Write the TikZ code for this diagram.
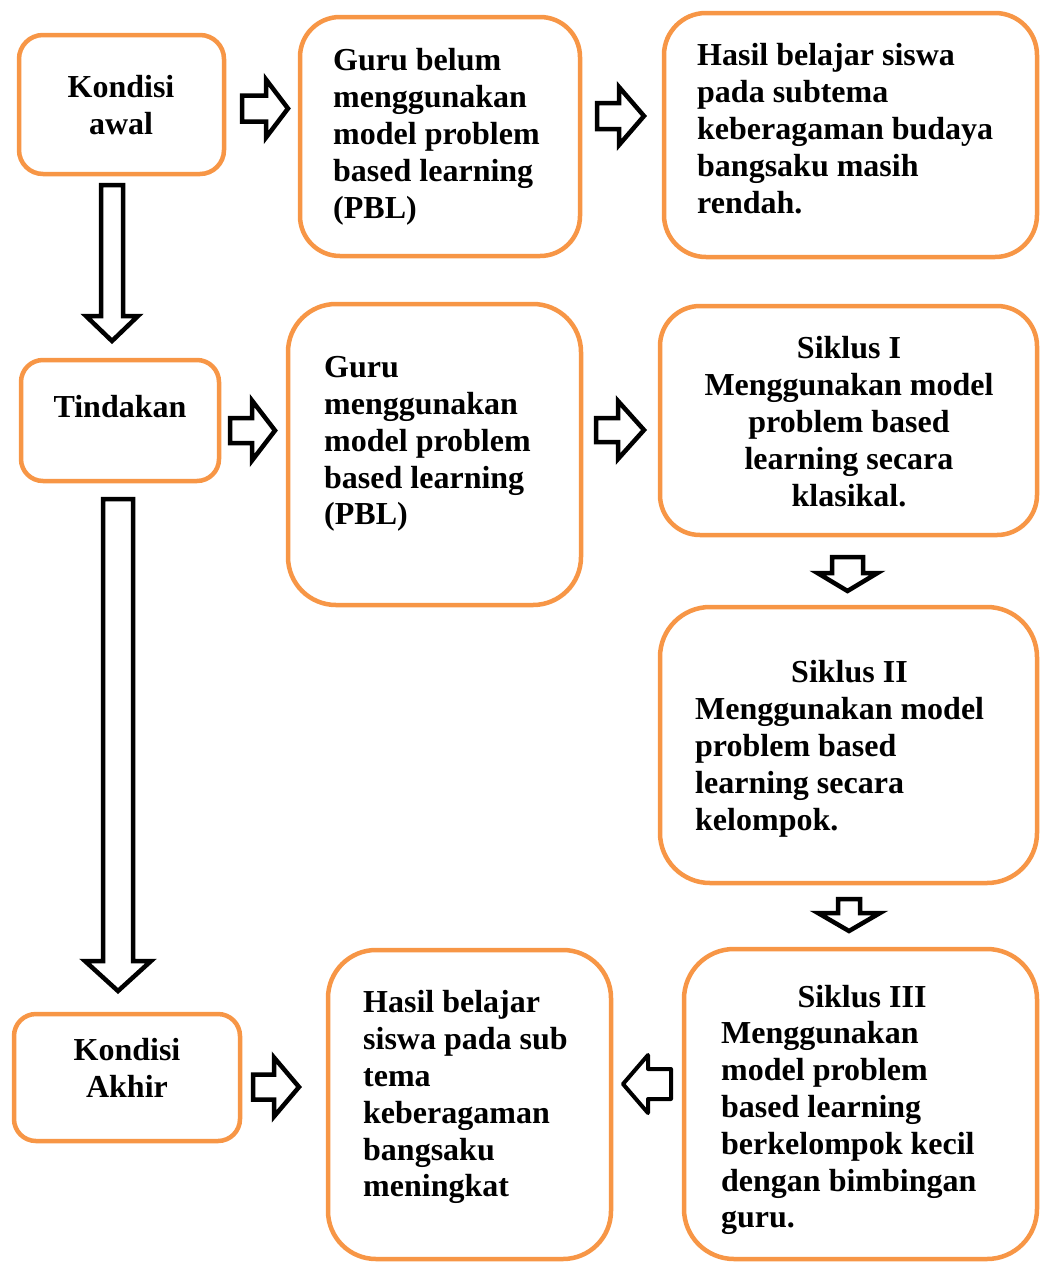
\documentclass[tikz,border=0pt]{standalone}
\usepackage{fontspec}
\setmainfont{Liberation Serif}
\definecolor{boxorange}{HTML}{F79646}
\newcommand\blockarr[6]{% #1 start coordinate, #2 angle, #3 length, #4 shaft half-width, #5 head half-width, #6 head length
  \draw[barrow,shift={(#1)},rotate=#2] (0,-#4) -- ({#3-#6},-#4) -- ({#3-#6},-#5) -- (#3,0) -- ({#3-#6},#5) -- ({#3-#6},#4) -- (0,#4) -- cycle;}
\begin{document}
\begin{tikzpicture}[x=1pt,y=-1pt,
  box/.style={draw=boxorange, line width=4.5pt, fill=white, rectangle, inner sep=0pt},
  txt/.style={font=\bfseries\fontsize{32}{36.8}\selectfont, inner sep=0pt, text=black},
  barrow/.style={draw=black, line width=4.5pt, fill=white, line join=miter}]
\useasboundingbox (0,0) rectangle (1040,1262);

% boxes
\node[box, minimum width=205pt, minimum height=139pt, rounded corners=24pt] (k1) at (121.5,104.5) {};
\node[box, minimum width=280pt, minimum height=239pt, rounded corners=40pt] (g1) at (440,136.5) {};
\node[box, minimum width=373pt, minimum height=244pt, rounded corners=42pt] (h1) at (850.5,135) {};
\node[box, minimum width=198pt, minimum height=121pt, rounded corners=22pt] (t1) at (120,420.5) {};
\node[box, minimum width=293pt, minimum height=301pt, rounded corners=48pt] (g2) at (434.5,454.5) {};
\node[box, minimum width=377pt, minimum height=229pt, rounded corners=40pt] (s1) at (848.5,420.5) {};
\node[box, minimum width=377pt, minimum height=276pt, rounded corners=50pt] (s2) at (848.5,745) {};
\node[box, minimum width=353pt, minimum height=310pt, rounded corners=50pt] (s3) at (860.5,1104) {};
\node[box, minimum width=283pt, minimum height=309pt, rounded corners=48pt] (h2) at (469.5,1104.5) {};
\node[box, minimum width=226pt, minimum height=127pt, rounded corners=22pt] (k2) at (127,1077.5) {};

% block arrows (connectors)
\coordinate (a1s) at (242,108.5);
\coordinate (a2s) at (597,116);
\coordinate (d1s) at (112,185);
\coordinate (a3s) at (230,430.5);
\coordinate (a4s) at (596,430);
\coordinate (d2s) at (118,499);
\coordinate (d3s) at (847.5,557);
\coordinate (d4s) at (849,899);
\coordinate (a5s) at (253,1087);
\coordinate (a6s) at (671,1084);
\blockarr{a1s}{0}{46}{13}{29}{22}
\blockarr{a2s}{0}{47}{13}{29}{25}
\blockarr{d1s}{-90}{156}{11}{26}{25}
\blockarr{a3s}{0}{45}{12.5}{30}{23}
\blockarr{a4s}{0}{48}{12}{29}{26}
\blockarr{d2s}{-90}{492}{15}{33}{30}
\blockarr{d3s}{-90}{34}{15.5}{30}{18}
\blockarr{d4s}{-90}{32}{11}{31}{18}
\blockarr{a5s}{0}{46}{12.5}{29.5}{25}
\begin{scope}[barrow/.append style={line join=round, line width=4pt}]
\blockarr{a6s}{180}{48}{15}{29}{25}
\end{scope}

% texts
\node[txt, align=center, anchor=north] (k1t) at (121,75.4) {Kondisi\\awal};
\node[txt, align=left, anchor=north west] (g1t) at (333,48.4) {Guru belum\\menggunakan\\model problem\\based learning\\(PBL)};
\node[txt, align=left, anchor=north west] (h1t) at (697,43.4) {Hasil belajar siswa\\pada subtema\\keberagaman budaya\\bangsaku masih\\rendah.};
\node[txt, align=center, anchor=north] (t1t) at (120,395.4) {Tindakan};
\node[txt, align=left, anchor=north west] (g2t) at (324,356.4) {Guru\\menggunakan\\model problem\\based learning\\(PBL)};
\node[txt, align=center, anchor=north] (s1t) at (849,336.4) {Siklus I\\Menggunakan model\\problem based\\learning secara\\klasikal.};
\node[txt, align=center, anchor=north] (s2h) at (849.5,660.4) {Siklus II};
\node[txt, align=left, anchor=north west] (s2t) at (695,697.4) {Menggunakan model\\problem based\\learning secara\\kelompok.};
\node[txt, align=center, anchor=north] (s3h) at (862,985.4) {Siklus III};
\node[txt, align=left, anchor=north west] (s3t) at (721,1021.4) {Menggunakan\\model problem\\based learning\\berkelompok kecil\\dengan bimbingan\\guru.};
\node[txt, align=left, anchor=north west] (h2t) at (363,990.4) {Hasil belajar\\siswa pada sub\\tema\\keberagaman\\bangsaku\\meningkat};
\node[txt, align=center, anchor=north] (k2t) at (127,1038.4) {Kondisi\\Akhir};
\end{tikzpicture}
\end{document}
